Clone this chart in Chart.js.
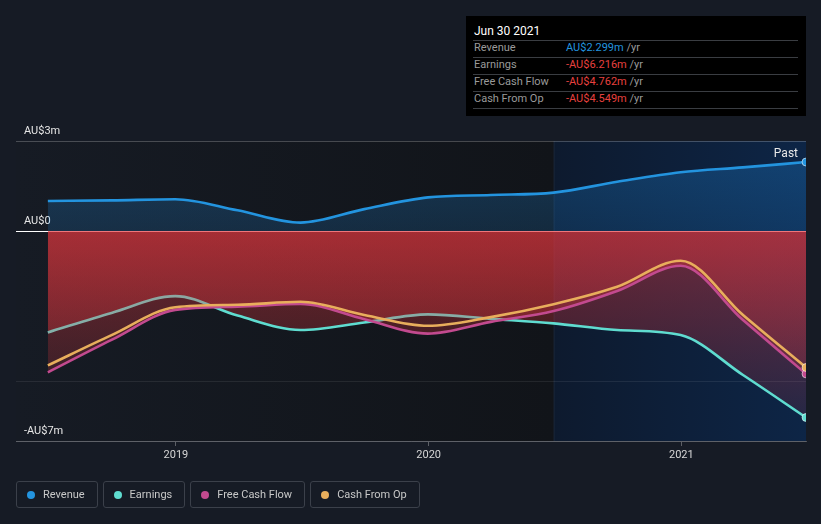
<!DOCTYPE html>
<html><head><meta charset="utf-8">
<script src="https://cdn.jsdelivr.net/npm/chart.js@4.4.0/dist/chart.umd.min.js"></script>
<style>
html,body{margin:0;padding:0;background:#161b25;width:821px;height:524px;overflow:hidden;font-family:Roboto,"Noto Sans",sans-serif;}
#wrap{position:relative;width:821px;height:524px;}
#c{position:absolute;left:0;top:0;}
#tip{position:absolute;left:466px;top:16px;width:340px;height:100px;background:#000;}
#tip .title{position:absolute;left:8px;top:7px;font-size:12px;color:#fff;line-height:16px;}
#tip .sep{position:absolute;left:7px;width:325px;height:1px;background:#3a3d42;}
#tip .row{position:absolute;left:8px;font-size:11px;line-height:14px;color:#9a9a9a;white-space:nowrap;}
#tip .row .v{position:absolute;left:92px;top:0;}
#legend{position:absolute;left:16px;top:481px;display:flex;gap:5px;}
.lg{box-sizing:border-box;height:27px;border:1px solid #3b404a;border-radius:3px;padding:0 12px 0 10px;display:flex;align-items:center;font-size:11px;color:#c8c8c8;}
.lg .d{width:8px;height:8px;border-radius:50%;margin-right:8px;}
</style>
</head><body>
<div id="wrap">
<canvas id="c" width="821" height="524"></canvas>
<div id="tip"></div>
<div id="legend"></div>
</div>
<script>
// ---- data (AU$ millions, trailing twelve months) ----
const periods = ['2018-06-30','2018-09-30','2018-12-31','2019-03-31','2019-06-30','2019-09-30','2019-12-31','2020-03-31','2020-06-30','2020-09-30','2020-12-31','2021-03-31','2021-06-30'];
const revenue      = [1.00, 1.02, 1.06, 0.69, 0.28, 0.73, 1.12, 1.20, 1.28, 1.64, 1.96, 2.12, 2.299];
const earnings     = [-3.38, -2.73, -2.17, -2.82, -3.30, -3.05, -2.78, -2.93, -3.08, -3.30, -3.47, -4.80, -6.216];
const freeCashFlow = [-4.71, -3.63, -2.63, -2.52, -2.43, -2.94, -3.42, -3.03, -2.67, -2.00, -1.16, -2.97, -4.762];
const cashFromOp   = [-4.48, -3.47, -2.54, -2.46, -2.36, -2.80, -3.16, -2.87, -2.44, -1.86, -0.99, -2.80, -4.549];
const seriesNames  = ['Revenue','Earnings','Free Cash Flow','Cash From Op'];
const seriesColors = ['#2394df','#5fdcd0','#c24a8f','#e8ae5c'];
const xTickYears   = [2019, 2020, 2021];
const yTicks       = [3, 0, -5, -7];
const yTickLabels  = ['AU$3m','AU$0','','-AU$7m'];
const axisStart    = '2018-05-15';
const pastStart    = '2020-06-30';
const tipTitle     = 'Jun 30 2021';

function decYear(s){
  const [y,m,d] = s.split('-').map(Number);
  const start = Date.UTC(y,0,1), end = Date.UTC(y+1,0,1);
  return y + (Date.UTC(y,m-1,d) - start)/(end-start);
}
const xs = periods.map(decYear);
const pts = arr => arr.map((v,i)=>({x:xs[i], y:v}));
const last = xs.length-1;

function redFill(ctx){
  const ch = ctx.chart; const a = ch.chartArea;
  if(!a) return 'rgba(230,55,62,0.3)';
  const y0 = ch.scales.y.getPixelForValue(0);
  const g = ch.ctx.createLinearGradient(0,y0,0,a.bottom);
  g.addColorStop(0,'rgba(232,55,62,0.44)');
  g.addColorStop(1,'rgba(232,55,62,0.07)');
  return g;
}
function blueFill(ctx){
  const ch = ctx.chart; const a = ch.chartArea;
  if(!a) return 'rgba(33,150,243,0.2)';
  const y0 = ch.scales.y.getPixelForValue(0);
  const g = ch.ctx.createLinearGradient(0,a.top,0,y0);
  g.addColorStop(0,'rgba(33,150,243,0.28)');
  g.addColorStop(1,'rgba(33,150,243,0.17)');
  return g;
}
const endRadius = c => c.dataIndex === last ? 4 : 0;

function ds(label, data, color, order, fill, bg){
  return {label, data:pts(data), borderColor:color, borderWidth:2.6, order,
    fill, backgroundColor:bg || 'transparent',
    cubicInterpolationMode:'monotone',
    pointRadius:endRadius, pointHoverRadius:0,
    pointBackgroundColor:color, pointBorderColor:'rgba(255,255,255,0.55)', pointBorderWidth:1};
}

const bgPlugin = {
  id:'bgPlugin',
  beforeDraw(chart){
    const {ctx, chartArea:a, scales} = chart;
    const px = scales.x.getPixelForValue(decYear(pastStart));
    ctx.save();
    let g = ctx.createLinearGradient(a.left,0,px,0);
    g.addColorStop(0,'#161b24'); g.addColorStop(1,'#111419');
    ctx.fillStyle = g; ctx.fillRect(a.left,a.top,px-a.left,a.bottom-a.top);
    g = ctx.createLinearGradient(px,0,a.right,0);
    g.addColorStop(0,'#0d1a2e'); g.addColorStop(1,'#0d2546');
    ctx.fillStyle = g; ctx.fillRect(px,a.top,a.right-px,a.bottom-a.top);
    ctx.fillStyle = 'rgba(255,255,255,0.05)';
    ctx.fillRect(px,a.top,1,a.bottom-a.top);
    ctx.restore();
  },
  afterDatasetsDraw(chart){
    const {ctx, chartArea:a} = chart;
    ctx.save();
    ctx.font = '12px Roboto, sans-serif';
    ctx.fillStyle = '#e8e8e8';
    ctx.textAlign = 'right'; ctx.textBaseline = 'middle';
    ctx.fillText('Past', a.right-8, a.top+13);
    ctx.restore();
  }
};

new Chart(document.getElementById('c'), {
  type:'line',
  data:{datasets:[
    ds(seriesNames[0], revenue, seriesColors[0], 0, 'origin', blueFill),
    ds(seriesNames[3], cashFromOp, seriesColors[3], 1, false),
    ds(seriesNames[2], freeCashFlow, seriesColors[2], 2, 'origin', redFill),
    ds(seriesNames[1], earnings, seriesColors[1], 3, 'origin', redFill)
  ]},
  options:{
    responsive:false, animation:false, events:[],
    layout:{padding:{left:16,right:15,top:141,bottom:53}},
    plugins:{legend:{display:false}, tooltip:{enabled:false}},
    scales:{
      x:{type:'linear', min:decYear(axisStart), max:xs[last],
        afterBuildTicks:s=>{s.ticks = xTickYears.map(v=>({value:v}));},
        afterFit:s=>{s.height = 30;},
        ticks:{color:'#d6d6d6', font:{family:'Roboto', size:11}, padding:3, maxRotation:0,
          callback:v=>String(v)},
        grid:{drawOnChartArea:false, drawTicks:true, tickLength:5, color:'rgba(255,255,255,0.3)'},
        border:{display:true, color:'rgba(255,255,255,0.25)', width:1}
      },
      y:{min:-7, max:3,
        afterBuildTicks:s=>{s.ticks = yTicks.map(v=>({value:v}));},
        afterFit:s=>{s.width = 0;},
        ticks:{mirror:true, padding:8, labelOffset:-10, color:'#e6e6e6', font:{family:'Roboto', size:11},
          callback:(v)=>yTickLabels[yTicks.indexOf(v)] ?? ''},
        grid:{drawTicks:false, lineWidth:1,
          color:c=> c.tick.value===0 ? '#ffffff' : c.tick.value===3 ? 'rgba(255,255,255,0.22)' : 'rgba(255,255,255,0.08)'},
        border:{display:false}
      }
    }
  },
  plugins:[bgPlugin]
});

// ---- tooltip box ----
const lastVals = [revenue[last], earnings[last], freeCashFlow[last], cashFromOp[last]];
const fmt = v => (v<0?'-':'') + 'AU$' + Math.abs(v).toFixed(3) + 'm';
const tip = document.getElementById('tip');
let html = '<div class="title">'+tipTitle+'</div>';
const sepY = [24, 41, 58, 75, 92];
sepY.forEach(y=>{ html += '<div class="sep" style="top:'+y+'px"></div>'; });
seriesNames.forEach((n,i)=>{
  const v = lastVals[i];
  const col = v<0 ? '#e8413f' : '#2394df';
  html += '<div class="row" style="top:'+(25+i*17)+'px">'+n+'<span class="v"><span style="color:'+col+'">'+fmt(v)+'</span> /yr</span></div>';
});
tip.innerHTML = html;

// ---- legend ----
const lg = document.getElementById('legend');
seriesNames.forEach((n,i)=>{
  const d = document.createElement('div'); d.className='lg';
  d.innerHTML = '<span class="d" style="background:'+seriesColors[i]+'"></span>'+n;
  lg.appendChild(d);
});
</script>
</body></html>
